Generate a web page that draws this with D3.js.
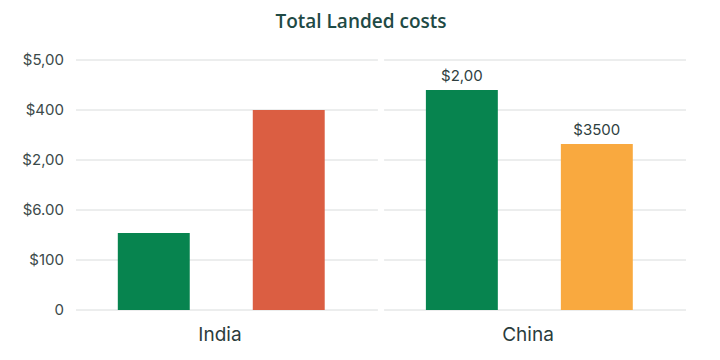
<!DOCTYPE html>
<html>
<head>
<meta charset="utf-8">
<script src="https://cdn.jsdelivr.net/npm/d3@7"></script>
<style>
  body { margin: 0; background: #fff; }
  svg { display: block; font-family: Inter, "Open Sans", sans-serif; }
</style>
</head>
<body>
<div class="js-chart"></div>
<script>
const categories = ['India', 'China'];
const seriesKeys = ['first', 'second'];
const indiaValues = [1.54, 4.0];
const chinaValues = [4.4, 3.32];
const indiaLabels = ['', ''];
const chinaLabels = ['$2,00', '$3500'];
const indiaColors = ['#07844f', '#db5e42'];
const chinaColors = ['#07844f', '#f9a93f'];
const yTicks = [0, 1, 2, 3, 4, 5];
const yTickLabels = ['0', '$100', '$6.00', '$2,00', '$400', '$5,00'];

const width = 720;
const height = 360;
const margin = { top: 60, right: 34, bottom: 50, left: 76 };

const rows = [
  { name: 'India', values: indiaValues, labels: indiaLabels, colors: indiaColors },
  { name: 'China', values: chinaValues, labels: chinaLabels, colors: chinaColors }
];

const svg = d3
  .select('.js-chart')
  .append('svg')
  .attr('width', width)
  .attr('height', height);

svg
  .append('text')
  .attr('x', 361)
  .attr('y', 28)
  .attr('text-anchor', 'middle')
  .attr('font-family', '"Open Sans", sans-serif')
  .attr('font-size', 19)
  .attr('font-weight', 600)
  .attr('fill', '#1f4a45')
  .text('Total Landed costs');

const x0 = d3
  .scaleBand()
  .domain(categories)
  .range([margin.left, width - margin.right])
  .paddingInner(0.02);

const x1 = d3
  .scaleBand()
  .domain(seriesKeys)
  .range([0, x0.bandwidth()])
  .paddingInner(0.467)
  .paddingOuter(0.352)
  .align(0.44);

const y = d3
  .scaleLinear()
  .domain([0, 5])
  .range([height - margin.bottom, margin.top]);

// gridlines, split per group like the reference
const grid = svg.append('g');
categories.forEach(c => {
  grid
    .append('g')
    .selectAll('line')
    .data(yTicks)
    .join('line')
    .attr('x1', x0(c))
    .attr('x2', x0(c) + x0.bandwidth())
    .attr('y1', d => y(d))
    .attr('y2', d => y(d))
    .attr('stroke', '#d9dcdc')
    .attr('stroke-width', 1);
});

// y axis labels
const yAxis = svg
  .append('g')
  .attr('transform', `translate(${margin.left},0)`)
  .call(
    d3
      .axisLeft(y)
      .tickValues(yTicks)
      .tickSize(0)
      .tickPadding(12)
      .tickFormat((d, i) => yTickLabels[i])
  );
yAxis.select('.domain').remove();
yAxis
  .selectAll('text')
  .attr('font-size', 15)
  .attr('font-family', 'Inter, "Open Sans", sans-serif')
  .attr('fill', '#3c4a4a');

// bars
const groups = svg
  .selectAll('g.group')
  .data(rows)
  .join('g')
  .attr('class', 'group')
  .attr('transform', d => `translate(${x0(d.name)},0)`);

groups
  .selectAll('rect')
  .data(d => d.values.map((v, i) => ({ key: seriesKeys[i], value: v, color: d.colors[i] })))
  .join('rect')
  .attr('x', d => x1(d.key))
  .attr('y', d => y(d.value))
  .attr('width', x1.bandwidth())
  .attr('height', d => y(0) - y(d.value))
  .attr('fill', d => d.color);

groups
  .selectAll('text.value')
  .data(d => d.values.map((v, i) => ({ key: seriesKeys[i], value: v, label: d.labels[i] })))
  .join('text')
  .attr('class', 'value')
  .attr('x', d => x1(d.key) + x1.bandwidth() / 2)
  .attr('y', d => y(d.value) - 9)
  .attr('text-anchor', 'middle')
  .attr('font-size', 15)
  .attr('fill', '#2f3f3f')
  .text(d => d.label);

// category labels
const xAxis = svg
  .append('g')
  .attr('transform', `translate(0,${height - margin.bottom})`)
  .call(d3.axisBottom(x0).tickSize(0).tickPadding(18));
xAxis.select('.domain').remove();
xAxis
  .selectAll('text')
  .attr('dx', -7)
  .attr('font-size', 19)
  .attr('font-family', 'Inter, "Open Sans", sans-serif')
  .attr('fill', '#2b3c3c');
</script>
</body>
</html>
